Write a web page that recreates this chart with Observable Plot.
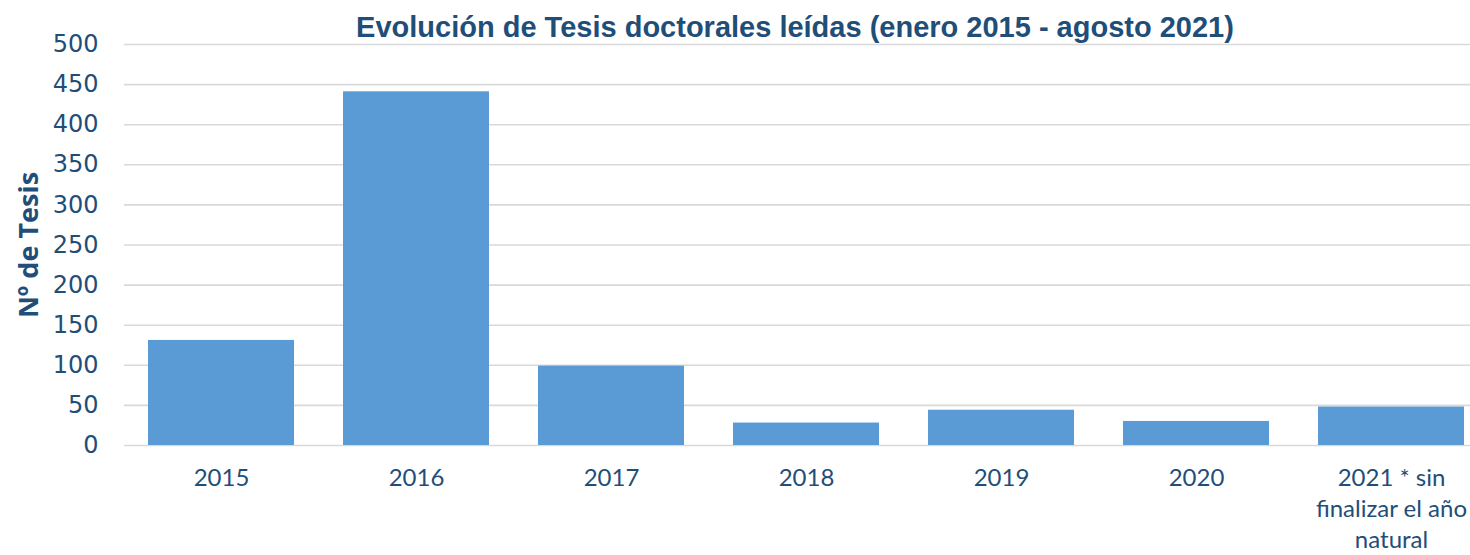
<!DOCTYPE html>
<html><head><meta charset="utf-8">
<script src="https://cdn.jsdelivr.net/npm/d3@7"></script>
<script src="https://cdn.jsdelivr.net/npm/@observablehq/plot@0.6"></script>
<style>
body{margin:0;background:#fff;overflow:hidden}
#wrap{position:relative;width:1470px;height:555px;overflow:hidden}
#title{position:relative;height:34px;font:bold 29px "Liberation Sans",Arial,sans-serif;color:#1F4E79;white-space:nowrap}
#title span{position:absolute;left:795px;top:13px;transform:translateX(-50%);line-height:1}
</style></head>
<body>
<div id="wrap"><div id="title"><span>Evolución de Tesis doctorales leídas (enero 2015 - agosto 2021)</span></div><div id="chart"></div></div>
<script>
const categories = ["2015","2016","2017","2018","2019","2020","2021 * sin\nfinalizar el año\nnatural"];
const values = [131,441,99,28,44,30,48];
const yTicks = [0,50,100,150,200,250,300,350,400,450,500];
const yLabel = "Nº de Tesis";

const data = categories.map((c,i)=>({cat:c, value:values[i]}));

const chart = Plot.plot({
  width:1470, height:521,
  marginTop:10, marginBottom:110, marginLeft:124, marginRight:-19,
  style:{background:"transparent", color:"#1F4E79", overflow:"visible"},
  x:{domain:categories, paddingInner:0.25, paddingOuter:0.125},
  y:{domain:[0,500]},
  marks:[
    Plot.ruleY(yTicks,{stroke:"#D9D9D9", strokeWidth:1.6}),
    Plot.barY(data,{x:"cat", y:"value", fill:"#5B9BD5"}),
    Plot.axisY({ticks:yTicks, tickSize:0, tickPadding:26, fontSize:24, fontFamily:"DejaVu Sans", label:null}),
    Plot.axisX({tickSize:0, tickPadding:18, fontSize:24, fontFamily:"Lato", lineHeight:1.3, label:null}),
    Plot.text([yLabel],{frameAnchor:"left", dx:-87, rotate:-90, lineAnchor:"bottom", textAnchor:"middle", fontSize:27, fontWeight:"bold", fontFamily:"Open Sans", fill:"#1F4E79"})
  ]
});
document.getElementById("chart").appendChild(chart);
</script>
</body></html>
